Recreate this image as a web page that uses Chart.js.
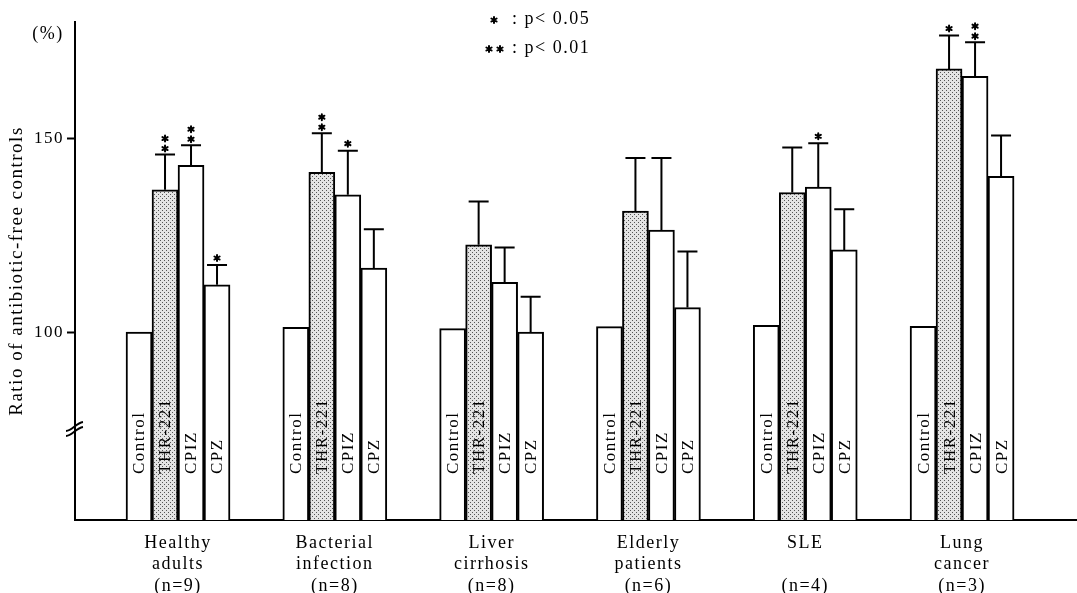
<!DOCTYPE html>
<html>
<head>
<meta charset="utf-8">
<script src="https://cdn.jsdelivr.net/npm/chart.js@4"></script>
<style>
html, body { margin: 0; padding: 0; background: #fff; }
#wrap { width: 1077px; height: 593px; }
</style>
</head>
<body>
<div id="wrap"><canvas id="myChart"></canvas></div>
<script>
// groups on the x axis (three lines each)
const groups = [
    ['Healthy', 'adults', '(n=9)'],
    ['Bacterial', 'infection', '(n=8)'],
    ['Liver', 'cirrhosis', '(n=8)'],
    ['Elderly', 'patients', '(n=6)'],
    ['SLE', '', '(n=4)'],
    ['Lung', 'cancer', '(n=3)']
]
const drugs = ['Control', 'THR-221', 'CPIZ', 'CPZ']

// bar heights (%)
const control = [100, 101.2, 100.9, 101.4, 101.7, 101.5]
const thr221  = [136.7, 141.2, 122.5, 131.2, 136.0, 167.9]
const cpiz    = [143.0, 135.4, 112.8, 126.3, 137.4, 166.0]
const cpz     = [112.2, 116.5, 100.0, 106.3, 121.2, 140.2]

// upper error (SD)
const controlSd = [0, 0, 0, 0, 0, 0]
const thr221Sd  = [9.1, 10.1, 11.2, 13.7, 11.6, 8.6]
const cpizSd    = [5.2, 11.4, 9.0, 18.6, 11.3, 8.8]
const cpzSd     = [5.1, 10.0, 9.1, 14.5, 10.5, 10.5]

// significance marks
const controlSig = ['', '', '', '', '', '']
const thr221Sig  = ['**', '**', '', '', '', '*']
const cpizSig    = ['**', '*', '', '', '*', '**']
const cpzSig     = ['*', '', '', '', '', '']

const yTicks = [100, 150]

const SERIF = '"Liberation Serif", "DejaVu Serif", serif'

// dotted fill for THR-221
function dots() {
    const c = document.createElement('canvas')
    c.width = 4; c.height = 4
    const g = c.getContext('2d')
    g.fillStyle = '#e4e4e4'
    g.fillRect(0, 0, 4, 4)
    g.fillStyle = '#555'
    g.fillRect(0, 0, 1, 1)
    g.fillRect(2, 2, 1, 1)
    return g.createPattern(c, 'repeat')
}

const sds = [controlSd, thr221Sd, cpizSd, cpzSd]
const sigs = [controlSig, thr221Sig, cpizSig, cpzSig]

function pts(arr) { return arr.map((v, i) => ({ x: i, y: v })) }

function star(ctx, x, y) {
    ctx.save()
    ctx.lineWidth = 2
    ctx.lineCap = 'round'
    ctx.beginPath()
    for (let k = 0; k < 3; k++) {
        const a = Math.PI / 2 + k * Math.PI / 3
        ctx.moveTo(x + Math.cos(a) * 3, y + Math.sin(a) * 3)
        ctx.lineTo(x - Math.cos(a) * 3, y - Math.sin(a) * 3)
    }
    ctx.stroke()
    ctx.restore()
}

const spacing = {
    id: 'spacing',
    beforeDraw(chart) { chart.ctx.letterSpacing = '1.5px' }
}

const extras = {
    id: 'extras',
    afterDatasetsDraw(chart) {
        const ctx = chart.ctx
        const ys = chart.scales.y
        const base = chart.chartArea.bottom
        ctx.save()
        ctx.strokeStyle = '#000'
        ctx.fillStyle = '#000'
        ctx.lineWidth = 2
        chart.data.datasets.forEach((ds, d) => {
            const meta = chart.getDatasetMeta(d)
            meta.data.forEach((bar, i) => {
                // error bar
                if (sds[d][i] > 0) {
                    const top = ys.getPixelForValue(ds.data[i].y + sds[d][i])
                    ctx.beginPath()
                    ctx.moveTo(bar.x, bar.y)
                    ctx.lineTo(bar.x, top)
                    ctx.moveTo(bar.x - 10, top)
                    ctx.lineTo(bar.x + 10, top)
                    ctx.stroke()
                    const s = sigs[d][i]
                    if (s === '*') star(ctx, bar.x, top - 7)
                    if (s === '**') { star(ctx, bar.x, top - 6); star(ctx, bar.x, top - 16) }
                }
                // drug name inside the bar
                ctx.save()
                ctx.translate(bar.x, base - 46)
                ctx.rotate(-Math.PI / 2)
                ctx.font = '17px ' + SERIF
                ctx.textAlign = 'left'
                ctx.textBaseline = 'middle'
                ctx.fillText(drugs[d], 0, 1)
                ctx.restore()
            })
        })
        // axis break
        ctx.lineWidth = 1.8
        ctx.beginPath()
        ctx.moveTo(66, 436); ctx.bezierCurveTo(72, 436, 76, 428, 83, 427)
        ctx.moveTo(66, 431); ctx.bezierCurveTo(72, 431, 76, 423, 83, 422)
        ctx.stroke()
        // unit
        ctx.font = '18px ' + SERIF
        ctx.textAlign = 'center'
        ctx.textBaseline = 'middle'
        ctx.fillText('(%)', 48, 34)
        // significance key
        ctx.textAlign = 'left'
        ctx.fillText(': p< 0.05', 512, 19)
        ctx.fillText(': p< 0.01', 512, 48)
        star(ctx, 494, 20)
        star(ctx, 489, 49); star(ctx, 500, 49)
        ctx.restore()
    }
}

const ctx = document.getElementById('myChart')

new Chart(ctx, {
    type: 'bar',
    data: {
        datasets: [
            { label: drugs[0], data: pts(control), backgroundColor: '#fff' },
            { label: drugs[1], data: pts(thr221), backgroundColor: dots() },
            { label: drugs[2], data: pts(cpiz), backgroundColor: '#fff' },
            { label: drugs[3], data: pts(cpz), backgroundColor: '#fff' }
        ]
    },
    options: {
        animation: false,
        responsive: true,
        maintainAspectRatio: false,
        devicePixelRatio: 1,
        layout: { padding: { top: 22, right: 0, left: 0, bottom: 0 } },
        datasets: {
            bar: { barThickness: 26, borderColor: '#000', borderWidth: 2, borderSkipped: 'bottom' }
        },
        plugins: {
            legend: false,
            tooltip: { enabled: false }
        },
        scales: {
            x: {
                type: 'linear',
                offset: false,
                min: -0.657,
                max: 5.733,
                grid: { display: false, offset: false },
                border: { display: true, color: '#000', width: 2 },
                afterBuildTicks: (axis) => { axis.ticks = groups.map((_, i) => ({ value: i })) },
                afterFit: (axis) => { axis.height = 73 },
                ticks: {
                    autoSkip: false,
                    maxRotation: 0,
                    padding: 4,
                    color: '#000',
                    font: { family: SERIF, size: 18, lineHeight: 1.2 },
                    callback: (v) => groups[v]
                }
            },
            y: {
                min: 51.5,
                max: 180,
                grid: { drawOnChartArea: false, drawTicks: true, tickLength: 8, tickColor: '#000', tickWidth: 2 },
                border: { display: true, color: '#000', width: 2 },
                afterBuildTicks: (axis) => { axis.ticks = yTicks.map(v => ({ value: v })) },
                afterFit: (axis) => { axis.width = 75 },
                ticks: {
                    padding: 3,
                    color: '#000',
                    font: { family: SERIF, size: 17 }
                },
                title: {
                    display: true,
                    text: 'Ratio of antibiotic-free controls',
                    color: '#000',
                    padding: { top: 6, bottom: 0 },
                    font: { family: SERIF, size: 19 }
                }
            }
        }
    },
    plugins: [spacing, extras]
})
</script>
</body>
</html>
